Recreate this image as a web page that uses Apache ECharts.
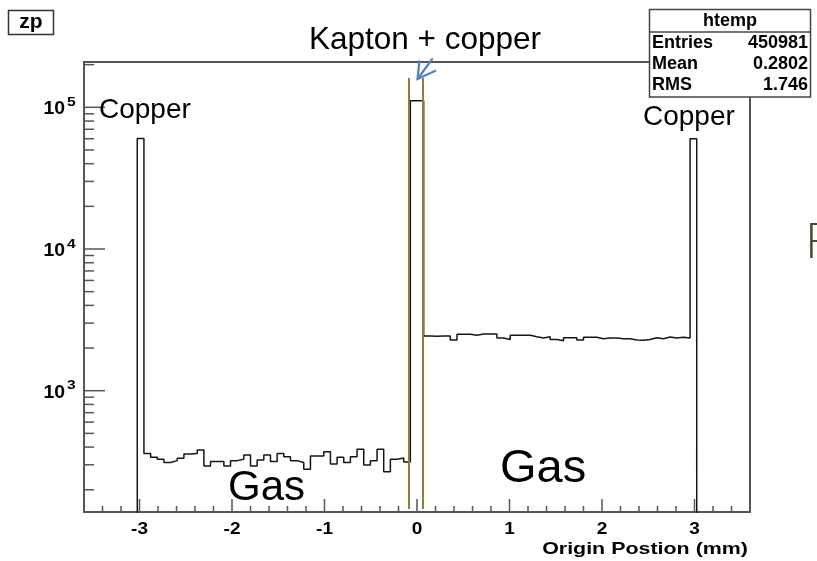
<!DOCTYPE html>
<html>
<head>
<meta charset="utf-8">
<script src="https://cdn.jsdelivr.net/npm/echarts@6/dist/echarts.min.js"></script>
<style>
  html, body { margin: 0; padding: 0; background: #ffffff; }
  #main { width: 817px; height: 561px; }
</style>
</head>
<body>
<div id="main"></div>
<script>
// zp: origin position histogram, 100 bins over [-3.6, 3.6] mm
const binMin = -3.6;
const binMax = 3.6;
const binCount = 100;

const emptyLeft    = [0, 0, 0, 0, 0, 0, 0, 0];
const copperLeft   = [60300];
const gasLeft      = [361, 339, 328, 311, 321, 333, 358, 361, 382, 294,
                      316, 316, 294, 321, 328, 352, 294, 324, 352, 316,
                      361, 342, 321, 311, 279, 346, 346, 371, 304, 339,
                      311, 342, 386, 299, 321, 386, 268, 328, 335, 314];
const kaptonCopper = [111100, 111100];
const gasRight     = [2430, 2420, 2430, 2430, 2280, 2500, 2500, 2460, 2510, 2510,
                      2510, 2355, 2300, 2460, 2460, 2460, 2400, 2355, 2400, 2300,
                      2255, 2365, 2365, 2280, 2380, 2380, 2330, 2355, 2355, 2330,
                      2330, 2280, 2270, 2300, 2365, 2330, 2390, 2355, 2380, 2355];
const copperRight  = [60100];
const emptyRight   = [0, 0, 0, 0, 0, 0, 0, 0];

// axis ranges and ticks
const xRange = [-3.6, 3.6];
const yRange = [139.3, 208800];
const xMajorTicks = [-3, -2, -1, 0, 1, 2, 3];
const xTickLabels = ['-3', '-2', '-1', '0', '1', '2', '3'];
const xMinorTicks = [-3.4, -3.2, -2.8, -2.6, -2.4, -2.2, -1.8, -1.6, -1.4, -1.2,
                     -0.8, -0.6, -0.4, -0.2, 0.2, 0.4, 0.6, 0.8, 1.2, 1.4, 1.6, 1.8,
                     2.2, 2.4, 2.6, 2.8, 3.2, 3.4];
const xAxisTitle = 'Origin Postion (mm)';
const yMajorTicks = [1000, 10000, 100000];
const yTickExponents = ['3', '4', '5'];
const yMinorTicks = [200, 300, 400, 500, 600, 700, 800, 900,
                     2000, 3000, 4000, 5000, 6000, 7000, 8000, 9000,
                     20000, 30000, 40000, 50000, 60000, 70000, 80000, 90000, 200000];

// kapton layer guide lines
const kaptonGuideX = [-0.086, 0.057];
const kaptonGuideY = [146, 161000];

// statistics box
const statsTitle = 'htemp';
const statsNames = ['Entries', 'Mean', 'RMS'];
const statsValues = ['450981', '0.2802', '1.746'];

const FONT = "'Liberation Sans', Arial, Helvetica, sans-serif";
const AXIS_COLOR = '#555555';

const counts = [].concat(emptyLeft, copperLeft, gasLeft, kaptonCopper, gasRight, copperRight, emptyRight);
const binWidth = (binMax - binMin) / binCount;
const floorValue = 1; // empty bins sit below the log axis and get clipped
const stepPoints = counts.map((c, i) => [binMin + i * binWidth, c > 0 ? c : floorValue]);
stepPoints.push([binMax, floorValue]);

function xTick(len, withLabel) {
  return function (params, api) {
    const cs = params.coordSys;
    const x = api.coord([api.value(0), yRange[0]])[0];
    const yb = cs.y + cs.height;
    const children = [{
      type: 'line',
      shape: { x1: x, y1: yb, x2: x, y2: yb - len },
      style: { stroke: AXIS_COLOR, lineWidth: 1.5 }
    }];
    if (withLabel) {
      children.push({
        type: 'text', x: x, y: yb + 17, scaleX: 1.12,
        style: {
          text: xTickLabels[params.dataIndex], x: 0, y: 0,
          align: 'center', verticalAlign: 'middle',
          font: 'bold 17px ' + FONT, fill: '#000'
        }
      });
    }
    return { type: 'group', children: children };
  };
}

function yTick(len, withLabel) {
  return function (params, api) {
    const cs = params.coordSys;
    const y = api.coord([xRange[0], api.value(1)])[1];
    const children = [{
      type: 'line',
      shape: { x1: cs.x, y1: y, x2: cs.x + len, y2: y },
      style: { stroke: AXIS_COLOR, lineWidth: 1.5 }
    }];
    if (withLabel) {
      children.push({
        type: 'text', x: cs.x - 19, y: y + 2, scaleX: 1.08,
        style: {
          text: '10', x: 0, y: 0,
          align: 'right', verticalAlign: 'middle',
          font: 'bold 18px ' + FONT, fill: '#000'
        }
      });
      children.push({
        type: 'text', x: cs.x - 17, y: y - 5, scaleX: 1.2,
        style: {
          text: yTickExponents[params.dataIndex], x: 0, y: 0,
          align: 'left', verticalAlign: 'middle',
          font: 'bold 13px ' + FONT, fill: '#000'
        }
      });
    }
    return { type: 'group', children: children };
  };
}

const chart = echarts.init(document.getElementById('main'), null, { renderer: 'canvas' });

chart.setOption({
  animation: false,
  backgroundColor: '#ffffff',
  grid: {
    left: 84, right: 67, top: 62, bottom: 49,
    show: true, borderColor: AXIS_COLOR, borderWidth: 2, backgroundColor: 'transparent',
    containLabel: false, outerBoundsMode: 'none'
  },
  xAxis: {
    type: 'value', min: xRange[0], max: xRange[1],
    axisLine: { show: false }, axisTick: { show: false },
    axisLabel: { show: false }, splitLine: { show: false }
  },
  yAxis: {
    type: 'log', logBase: 10, min: yRange[0], max: yRange[1],
    axisLine: { show: false }, axisTick: { show: false },
    axisLabel: { show: false }, splitLine: { show: false }
  },
  series: [
    {
      type: 'line', step: 'end', data: stepPoints,
      symbol: 'none', showSymbol: false, clip: true, z: 3,
      lineStyle: { color: '#151515', width: 1.5 },
      markLine: {
        silent: true, symbol: ['none', 'none'], label: { show: false },
        lineStyle: { color: '#8c7d45', width: 2, type: 'solid' },
        data: kaptonGuideX.map(x => [{ coord: [x, kaptonGuideY[0]] }, { coord: [x, kaptonGuideY[1]] }])
      }
    },
    { type: 'custom', data: xMajorTicks.map(v => [v, yRange[0]]), renderItem: xTick(13, true), z: 4, silent: true },
    { type: 'custom', data: xMinorTicks.map(v => [v, yRange[0]]), renderItem: xTick(6, false), z: 4, silent: true },
    { type: 'custom', data: yMajorTicks.map(v => [xRange[0], v]), renderItem: yTick(21, true), z: 4, silent: true },
    { type: 'custom', data: yMinorTicks.map(v => [xRange[0], v]), renderItem: yTick(10, false), z: 4, silent: true }
  ],
  graphic: [
    // x axis title
    { type: 'text', z: 11, x: 748, y: 549, scaleX: 1.26,
      style: { text: xAxisTitle, align: 'right', verticalAlign: 'middle', font: 'bold 17px ' + FONT, fill: '#000' } },
    // histogram name box
    { type: 'rect', z: 10, shape: { x: 8.5, y: 10.5, width: 45, height: 24 },
      style: { fill: '#fff', stroke: '#333', lineWidth: 1.5 } },
    { type: 'text', z: 11, x: 31, y: 22,
      style: { text: 'zp', align: 'center', verticalAlign: 'middle', font: 'bold 21px ' + FONT, fill: '#000' } },
    // statistics box
    { type: 'rect', z: 10, shape: { x: 649.5, y: 9.5, width: 161, height: 87.5 },
      style: { fill: '#fff', stroke: '#444', lineWidth: 1.5 } },
    { type: 'line', z: 11, shape: { x1: 649.5, y1: 32, x2: 810.5, y2: 32 },
      style: { stroke: '#444', lineWidth: 1.5 } },
    { type: 'text', z: 11, x: 730, y: 21,
      style: { text: statsTitle, align: 'center', verticalAlign: 'middle', font: 'bold 18px ' + FONT, fill: '#000' } },
    ...statsNames.map((n, i) => ({ type: 'text', z: 11, x: 652, y: 43.5 + i * 21,
      style: { text: n, align: 'left', verticalAlign: 'middle', font: 'bold 18px ' + FONT, fill: '#000' } })),
    ...statsValues.map((v, i) => ({ type: 'text', z: 11, x: 808, y: 43.5 + i * 21,
      style: { text: v, align: 'right', verticalAlign: 'middle', font: 'bold 18px ' + FONT, fill: '#000' } })),
    // region annotations
    { type: 'text', z: 12, x: 309, y: 40,
      style: { text: 'Kapton + copper', align: 'left', verticalAlign: 'middle', font: '31.5px ' + FONT, fill: '#000' } },
    { type: 'text', z: 12, x: 99, y: 110,
      style: { text: 'Copper', align: 'left', verticalAlign: 'middle', font: '28px ' + FONT, fill: '#000' } },
    { type: 'text', z: 12, x: 643, y: 117,
      style: { text: 'Copper', align: 'left', verticalAlign: 'middle', font: '28px ' + FONT, fill: '#000' } },
    { type: 'text', z: 12, x: 228, y: 488,
      style: { text: 'Gas', align: 'left', verticalAlign: 'middle', font: '42px ' + FONT, fill: '#000' } },
    { type: 'text', z: 12, x: 500, y: 469,
      style: { text: 'Gas', align: 'left', verticalAlign: 'middle', font: '47px ' + FONT, fill: '#000' } },
    { type: 'text', z: 12, x: 805, y: 242,
      style: { text: 'F', align: 'left', verticalAlign: 'middle', font: '300 49px Lato, ' + FONT, fill: '#4e4a30' } },
    // arrow pointing at the kapton layer
    { type: 'polyline', z: 12, shape: { points: [[432.7, 58.3], [417.5, 79]] },
      style: { stroke: '#4f81bd', lineWidth: 2.2, fill: null } },
    { type: 'polyline', z: 12, shape: { points: [[419.5, 60.5], [417.5, 79], [436, 70.5]] },
      style: { stroke: '#4f81bd', lineWidth: 2.2, fill: null, lineJoin: 'miter' } }
  ]
});
</script>
</body>
</html>
